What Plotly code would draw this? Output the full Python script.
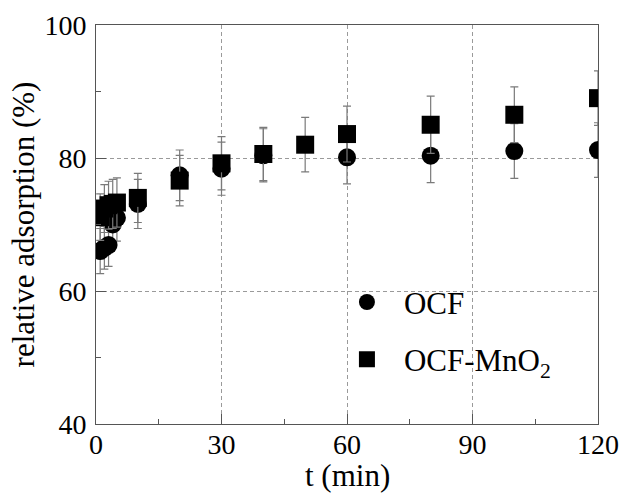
import plotly.graph_objects as go

# ---- data ----
ocf_t = [1, 2, 3, 4, 5, 10, 20, 30, 40, 60, 80, 100, 120]
ocf_v = [66.0, 66.5, 66.9, 70.0, 71.0, 73.1, 77.4, 78.4, 80.4, 80.1, 80.35, 81.05, 81.2]
ocf_err = [3.4, 3.2, 3.2, 3.4, 3.5, 3.7, 3.8, 4.0, 4.0, 4.0, 4.05, 4.1, 4.1]

mno_t = [1, 2, 3, 4, 5, 10, 20, 30, 40, 50, 60, 80, 100, 120]
mno_v = [71.1, 72.4, 72.9, 73.1, 73.3, 74.0, 76.6, 79.2, 80.6, 82.0, 83.6, 85.0, 86.5, 89.0]
mno_err = [3.5, 3.6, 3.6, 3.7, 3.7, 3.7, 3.8, 4.0, 4.0, 4.1, 4.2, 4.3, 4.2, 4.1]

names = ["OCF", "OCF-MnO<sub>2</sub>"]
x_ticks = [0, 30, 60, 90, 120]
y_ticks = [40, 60, 80, 100]
x_title = "t (min)"
y_title = "relative adsorption (%)"

FONT = "Liberation Serif"
ERRC = "#7a7a7a"

fig = go.Figure()
fig.add_trace(go.Scatter(
    x=ocf_t, y=ocf_v, mode="markers", name=names[0], legendgroup="a",
    marker=dict(symbol="circle", size=18, color="black"),
    error_y=dict(type="data", array=ocf_err, visible=True, color=ERRC,
                 thickness=1.2, width=4),
))
fig.add_trace(go.Scatter(
    x=mno_t, y=mno_v, mode="markers", name=names[1], legendgroup="b",
    marker=dict(symbol="square", size=18, color="black"),
    error_y=dict(type="data", array=mno_err, visible=True, color=ERRC,
                 thickness=1.2, width=4),
))

axis_common = dict(
    showline=True, mirror=True, linecolor="#555555", linewidth=1,
    ticks="inside", ticklen=10, tickcolor="#555555", tickwidth=1,
    showgrid=True, gridcolor="#9a9a9a", gridwidth=1, griddash="4px,3px",
    zeroline=False, automargin=False,
    tickfont=dict(family=FONT, size=28, color="black"),
)

fig.update_xaxes(
    range=[0, 120], tickvals=x_ticks, ticktext=[str(v) for v in x_ticks],
    minor=dict(dtick=15, tick0=0, ticks="inside", ticklen=5, tickcolor="#555555", showgrid=False),
    ticklabelstandoff=-5,
    **axis_common,
)
fig.update_yaxes(
    range=[40, 100], tickvals=y_ticks, ticktext=[str(v) for v in y_ticks],
    minor=dict(dtick=10, tick0=40, ticks="inside", ticklen=5, tickcolor="#555555", showgrid=False),
    title=dict(text=y_title, font=dict(family=FONT, size=31, color="black"), standoff=0),
    ticklabelstandoff=3,
    **axis_common,
)

fig.add_annotation(
    text=x_title, xref="paper", yref="paper", x=0.5, y=-0.128,
    xanchor="center", yanchor="middle", showarrow=False,
    font=dict(family=FONT, size=31, color="black"),
)

fig.update_layout(
    width=622, height=495,
    margin=dict(l=96, r=24, t=25, b=71),
    paper_bgcolor="white", plot_bgcolor="white",
    showlegend=True,
    legend=dict(
        x=0.466, y=0.3725, xanchor="left", yanchor="top",
        bgcolor="rgba(0,0,0,0)", borderwidth=0,
        font=dict(family=FONT, size=31, color="black"),
        itemwidth=64, tracegroupgap=14,
    ),
)

# remove the default 8px page margin so the figure fills the window exactly
fig.write_html(
    "out.html",
    config={"displayModeBar": False},
    post_script="document.body.style.margin='0';document.body.style.overflow='hidden';",
)
